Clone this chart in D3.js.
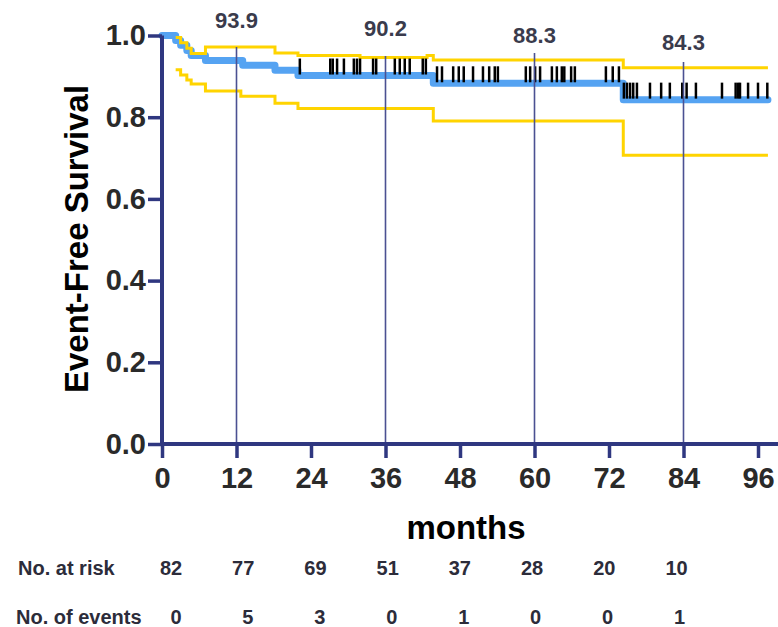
<!DOCTYPE html>
<html>
<head>
<meta charset="utf-8">
<script src="https://cdn.jsdelivr.net/npm/d3@7"></script>
<style>
  html, body { margin: 0; padding: 0; background: #fff; }
  svg { display: block; }
  text { font-family: "Liberation Sans", Arial, sans-serif; }
</style>
</head>
<body>
<svg id="chart" width="778" height="627"></svg>
<script>
// Kaplan-Meier estimate: event times (months) and survival after each step
const kmTimes = [0, 2.2, 3.0, 4.0, 4.7, 7.0, 13.0, 18.2, 21.9, 43.7, 74.3];
const kmSurv  = [1.0, 0.988, 0.976, 0.963, 0.951, 0.939, 0.927, 0.915, 0.902, 0.883, 0.843];
const followUpEnd = 97.6;

// 95% confidence band
const upperTimes = [2.2, 3.0, 4.0, 4.7, 7.0, 18.2, 21.9, 31.9, 42.7, 43.7, 74.3];
const upperSurv  = [0.995, 0.982, 0.969, 0.956, 0.972, 0.957, 0.951, 0.946, 0.951, 0.940, 0.921];
const lowerTimes = [2.2, 3.0, 4.0, 4.7, 7.0, 12.7, 18.2, 21.9, 43.7, 74.3];
const lowerSurv  = [0.916, 0.903, 0.891, 0.881, 0.864, 0.851, 0.834, 0.821, 0.791, 0.707];

// Censored observations (months)
const censorTimes = [
  22.2, 27.1, 27.5, 28.2, 29.3, 30.9, 31.4, 31.9, 34.0, 34.5, 37.5, 38.3, 39.1, 39.9, 42.0, 42.5,
  44.3, 45.1, 46.9, 47.8, 48.6, 50.1, 51.7, 52.7, 53.6, 54.1, 58.6, 59.3, 60.1, 60.9, 62.8, 63.6,
  64.4, 64.8, 65.9, 66.5, 71.5, 72.6, 73.6,
  74.4, 74.9, 75.4, 75.9, 76.5, 78.6, 80.4, 81.8, 83.8, 84.5, 86.0, 90.2, 92.4, 92.8, 93.1, 94.4, 96.0, 97.5
];

// Landmark survival estimates (%)
const landmarkMonths = [12, 36, 60, 84];
const landmarkPct = [93.9, 90.2, 88.3, 84.3];

// Risk table
const tableMonths = [0, 12, 24, 36, 48, 60, 72, 84];
const atRisk = [82, 77, 69, 51, 37, 28, 20, 10];
const nEvents = [0, 5, 3, 0, 1, 0, 0, 1];

// Axis ticks
const xTicks = [0, 12, 24, 36, 48, 60, 72, 84, 96];
const yTicks = [0, 0.2, 0.4, 0.6, 0.8, 1.0];

// Label placement for the landmark annotations (survival units)
const landmarkLabelLevel = [1.038, 1.018, 1.002, 0.984];
const landmarkLineTop = [0.972, 0.950, 0.957, 0.935];

const NAVY = "#2f3780";
const BLUE = "#55a3f2";
const GOLD = "#ffd400";

const svg = d3.select("#chart");
svg.append("rect").attr("width", 778).attr("height", 627).attr("fill", "#fff");

const x = d3.scaleLinear().domain([0, 96]).range([162, 758]);
const y = d3.scaleLinear().domain([0, 1]).range([444, 35.5]);

// survival level in effect at time t
function survAt(times, surv, t) {
  let s = surv[0];
  for (let i = 0; i < times.length; i++) if (times[i] <= t) s = surv[i];
  return s;
}

const stepLine = d3.line()
  .x(d => x(d[0]))
  .y(d => y(d[1]))
  .curve(d3.curveStepAfter);

function stepPoints(times, surv) {
  const pts = times.map((t, i) => [t, surv[i]]);
  pts.push([followUpEnd, surv[surv.length - 1]]);
  return pts;
}

// Kaplan-Meier curve
svg.append("path")
  .attr("d", stepLine(stepPoints(kmTimes, kmSurv)))
  .attr("fill", "none")
  .attr("stroke", BLUE)
  .attr("stroke-width", 7)
  .attr("stroke-linejoin", "round")
  .attr("stroke-linecap", "round");

// Confidence limits
[[upperTimes, upperSurv], [lowerTimes, lowerSurv]].forEach(([t, s]) => {
  svg.append("path")
    .attr("d", stepLine(stepPoints(t, s)))
    .attr("fill", "none")
    .attr("stroke", GOLD)
    .attr("stroke-width", 3);
});

// Censor ticks
svg.append("g").selectAll("line")
  .data(censorTimes)
  .join("line")
  .attr("x1", d => x(d)).attr("x2", d => x(d))
  .attr("y1", d => y(survAt(kmTimes, kmSurv, d)) - 17)
  .attr("y2", d => y(survAt(kmTimes, kmSurv, d)) - 1)
  .attr("stroke", "#000")
  .attr("stroke-width", 2.5);

// Landmark reference lines and labels
const lm = svg.append("g");
lm.selectAll("line")
  .data(landmarkMonths)
  .join("line")
  .attr("x1", d => x(d)).attr("x2", d => x(d))
  .attr("y1", (d, i) => y(landmarkLineTop[i]))
  .attr("y2", y(0))
  .attr("stroke", "#4b5192")
  .attr("stroke-width", 1.6);
lm.selectAll("text")
  .data(landmarkMonths)
  .join("text")
  .attr("x", d => x(d))
  .attr("y", (d, i) => y(landmarkLabelLevel[i]))
  .attr("dy", "0.36em")
  .attr("text-anchor", "middle")
  .attr("font-size", 22)
  .attr("font-weight", "bold")
  .attr("fill", "#3a3b4c")
  .text((d, i) => landmarkPct[i].toFixed(1));

// Axes
const xAxis = svg.append("g")
  .attr("transform", `translate(0,${y(0)})`)
  .call(d3.axisBottom(x).tickValues(xTicks).tickSize(14).tickPadding(9).tickFormat(d3.format("d")));
const yAxis = svg.append("g")
  .attr("transform", `translate(${x(0)},0)`)
  .call(d3.axisLeft(y).tickValues(yTicks).tickSize(14).tickPadding(2).tickFormat(d3.format(".1f")));

[xAxis, yAxis].forEach(g => {
  g.select(".domain").remove();
  g.selectAll(".tick line").attr("stroke", NAVY).attr("stroke-width", 3.5);
  g.selectAll(".tick text")
    .attr("font-size", 29)
    .attr("font-weight", "bold")
    .attr("fill", "#2a2a2a")
    .attr("font-family", "'Liberation Sans', Arial, sans-serif");
});

svg.append("line")
  .attr("x1", x(0)).attr("x2", 778)
  .attr("y1", y(0)).attr("y2", y(0))
  .attr("stroke", NAVY).attr("stroke-width", 4);
svg.append("line")
  .attr("x1", x(0)).attr("x2", x(0))
  .attr("y1", y(1)).attr("y2", y(0))
  .attr("stroke", NAVY).attr("stroke-width", 4);

// Axis titles
svg.append("text")
  .attr("x", 466).attr("y", 539)
  .attr("text-anchor", "middle")
  .attr("font-size", 33).attr("font-weight", "bold").attr("fill", "#000")
  .text("months");
svg.append("text")
  .attr("transform", "translate(88,239) rotate(-90)")
  .attr("text-anchor", "middle")
  .attr("font-size", 33).attr("font-weight", "bold").attr("fill", "#000")
  .text("Event-Free Survival");

// Numbers at risk / events table
const riskX = d3.scaleLinear().domain([0, 84]).range([x(0) + 9, x(84) - 7]);
const eventX = d3.scaleLinear().domain([0, 84]).range([x(0) + 14, x(84) - 4]);
const tbl = svg.append("g")
  .attr("font-size", 20).attr("font-weight", "bold").attr("fill", "#2c2c3a");
tbl.append("text").attr("x", 18).attr("y", 575).text("No. at risk");
tbl.append("text").attr("x", 16).attr("y", 624).text("No. of events");
tbl.selectAll("text.risk")
  .data(tableMonths)
  .join("text").attr("class", "risk")
  .attr("x", d => riskX(d)).attr("y", 575)
  .attr("text-anchor", "middle")
  .text((d, i) => atRisk[i]);
tbl.selectAll("text.evt")
  .data(tableMonths)
  .join("text").attr("class", "evt")
  .attr("x", d => eventX(d)).attr("y", 624)
  .attr("text-anchor", "middle")
  .text((d, i) => nEvents[i]);
</script>
</body>
</html>
